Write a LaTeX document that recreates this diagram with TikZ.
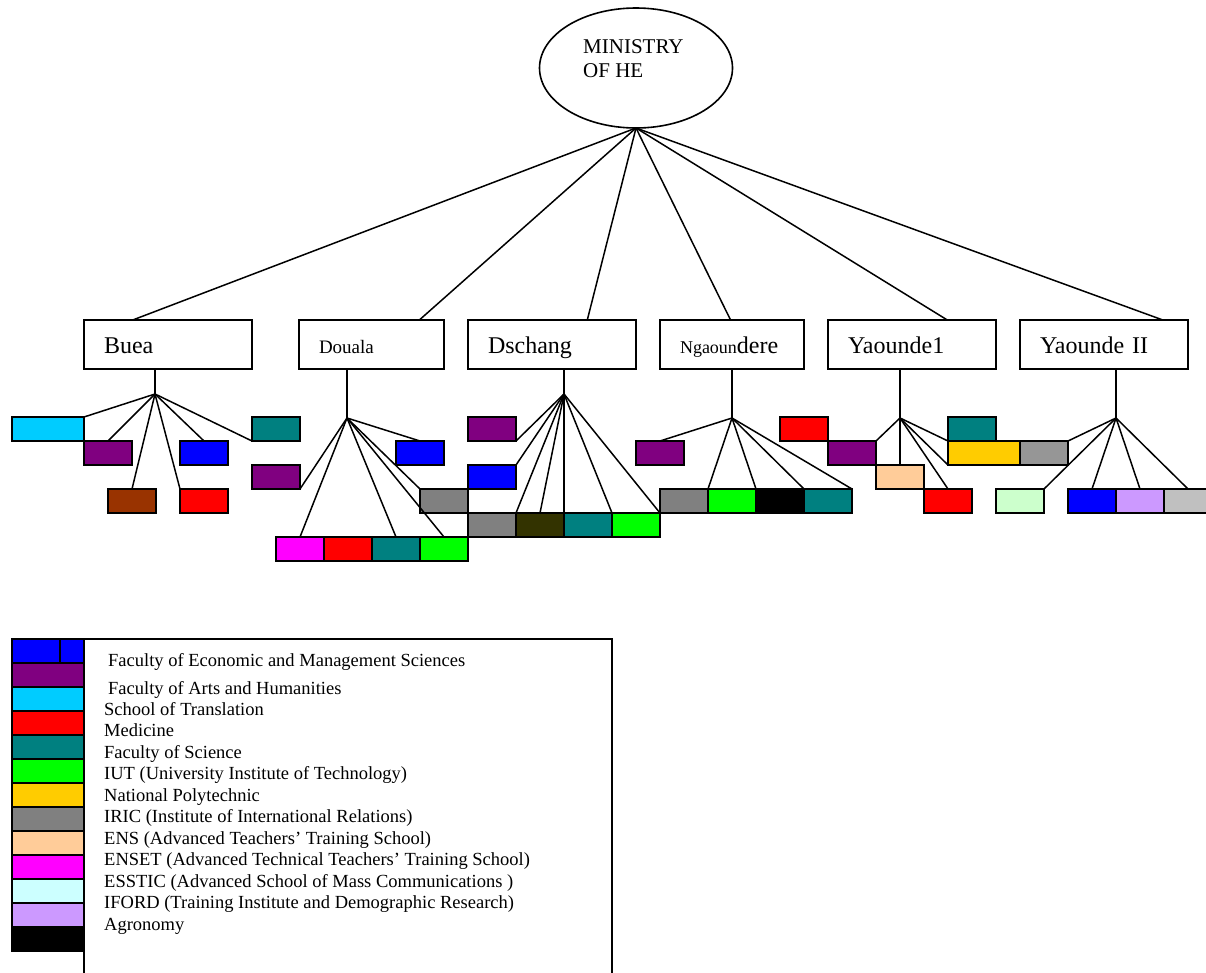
\documentclass[tikz,border=0pt]{standalone}
\usepackage{fontspec}
\setmainfont{Liberation Serif}
\usepackage{tikz}
\usetikzlibrary{shapes.geometric,calc}
\definecolor{cSky}{HTML}{00CCFF}
\definecolor{cPurple}{HTML}{800080}
\definecolor{cBlue}{HTML}{0000FF}
\definecolor{cBrown}{HTML}{993300}
\definecolor{cRed}{HTML}{FF0000}
\definecolor{cTeal}{HTML}{008080}
\definecolor{cMagenta}{HTML}{FF00FF}
\definecolor{cGreen}{HTML}{00FF00}
\definecolor{cGray}{HTML}{808080}
\definecolor{cOlive}{HTML}{333300}
\definecolor{cPeach}{HTML}{FFCC99}
\definecolor{cGold}{HTML}{FFCC00}
\definecolor{cGrayB}{HTML}{969696}
\definecolor{cMint}{HTML}{CCFFCC}
\definecolor{cLilac}{HTML}{CC99FF}
\definecolor{cSilver}{HTML}{C0C0C0}
\definecolor{cIce}{HTML}{CCFFFF}
\tikzset{
  link/.style={line width=1.5pt},
  unit/.style={
    draw, line width=1.7pt, fill=#1,
    minimum width=48pt, minimum height=24pt,
    inner sep=0pt, outer sep=0pt
  },
  wide unit/.style={unit=#1, minimum width=72pt},
  uni/.style={
    draw, line width=1.6pt, minimum height=49pt,
    inner xsep=20pt, inner ysep=0pt, outer sep=0pt,
    text width=#1, align=left, text height=18pt, text depth=1pt,
    font=\fontsize{24}{28}\selectfont
  },
  legend text/.style={anchor=base west, inner sep=0pt, font=\fontsize{18.5}{21}\selectfont}
}

\begin{document}
\begin{tikzpicture}[x=1pt,y=-1pt]
        \useasboundingbox (0,0) rectangle (1206,972);

        \node[ellipse, draw, line width=1.6pt, minimum width=193pt, minimum height=120pt, inner sep=0pt, outer sep=0pt] (MoHE) at (636,68) {};
        \node[align=left, anchor=west, inner sep=0pt, font=\fontsize{21}{24}\selectfont] (MoHEtext) at (583,59) {MINISTRY\\OF HE};

        \node[uni=128pt] (Buea)   at (168,344.5)   {Buea};
        \node[uni=105pt, font=\fontsize{19}{22}\selectfont] (Douala) at (371.5,344.5) {Douala};
        \node[uni=128pt] (Dschang) at (552,344.5)  {Dschang};
        \node[uni=104pt] (Ngaoundere) at (732,344.5) {{\fontsize{18}{20}\selectfont Ngaoun}dere};
        \node[uni=128pt] (YdeI)   at (912,344.5)   {Yaounde1};
        \node[uni=128pt] (YdeII)  at (1104,344.5)  {Yaounde II};

        \foreach \u/\f in {Buea/0.29, Douala/0.83, Dschang/0.71, Ngaoundere/0.49, YdeI/0.71, YdeII/0.85}
            \draw[link] (MoHE.south) -- ($(\u.north west)!\f!(\u.north east)$);

        \coordinate (Bh) at (155,394);
        \coordinate (Dh) at (347,418);
        \coordinate (Sh) at (564,394);
        \coordinate (Nh) at (732,418);
        \coordinate (Yh) at (900,418);
        \coordinate (Zh) at (1116,418);

        \draw[link] (Bh |- Buea.south) -- (Bh);
        \draw[link] (Dh |- Douala.south) -- (Dh);
        \draw[link] (Sh |- Dschang.south) -- (Sh);
        \draw[link] (Nh |- Ngaoundere.south) -- (Nh);
        \draw[link] (Yh |- YdeI.south) -- (Yh);
        \draw[link] (Zh |- YdeII.south) -- (Zh);

        \node[wide unit=cSky] (B1) at (48,429) {};
        \node[unit=cPurple] (B2) at (108,453) {};
        \node[unit=cBlue]   (B3) at (204,453) {};
        \node[unit=cBrown]  (B4) at (132,501) {};
        \node[unit=cRed]    (B5) at (204,501) {};
        \node[unit=cTeal]   (B6) at (276,429) {};

        \node[unit=cPurple]  (D1) at (276,477) {};
        \node[unit=cBlue]    (D2) at (420,453) {};
        \node[unit=cGray]    (D3) at (444,501) {};
        \node[unit=cMagenta] (D4) at (300,549) {};
        \node[unit=cRed]     (D5) at (348,549) {};
        \node[unit=cTeal]    (D6) at (396,549) {};
        \node[unit=cGreen]   (D7) at (444,549) {};

        \node[unit=cPurple] (S1) at (492,429) {};
        \node[unit=cBlue]   (S2) at (492,477) {};
        \node[unit=cGray]   (S3) at (492,525) {};
        \node[unit=cOlive]  (S4) at (540,525) {};
        \node[unit=cTeal]   (S5) at (588,525) {};
        \node[unit=cGreen]  (S6) at (636,525) {};

        \node[unit=cPurple] (N1) at (660,453) {};
        \node[unit=cGray]   (N2) at (684,501) {};
        \node[unit=cGreen]  (N3) at (732,501) {};
        \node[unit=black]   (N4) at (780,501) {};
        \node[unit=cTeal]   (N5) at (828,501) {};

        \node[unit=cRed]    (Y1) at (804,429) {};
        \node[unit=cPurple] (Y2) at (852,453) {};
        \node[unit=cPeach]  (Y3) at (900,477) {};
        \node[unit=cRed]    (Y4) at (948,501) {};
        \node[unit=cTeal]   (Y5) at (972,429) {};
        \node[wide unit=cGold] (Y6) at (984,453) {};

        \node[unit=cGrayB]  (Z1) at (1044,453) {};
        \node[unit=cMint]   (Z2) at (1020,501) {};
        \node[unit=cBlue]   (Z3) at (1092,501) {};
        \node[unit=cLilac]  (Z4) at (1140,501) {};
        \node[unit=cSilver] (Z5) at (1188,501) {};

        \begin{scope}[every edge/.style={draw, line width=1.5pt}]
            \path (Bh) edge (B1.north east) edge (B2.north) edge (B4.north)
                       edge (B5.north west) edge (B3.north) edge (B6.south west);
            \path (Dh) edge (D1.south east) edge (D4.north) edge (D6.north)
                       edge (D7.north) edge (D3.north west) edge (D2.north);
            \path (Sh) edge (S1.south east) edge (S2.north east) edge (S3.north east)
                       edge (S4.north) edge (S4.north east) edge (S5.north east) edge (S6.north east);
            \path (Nh) edge (N1.north) edge (N2.north east) edge (N3.north east)
                       edge (N4.north east) edge (N5.north east);
            \path (Yh) edge (Y2.north east) edge (Y3.north) edge (Y4.north)
                       edge (Y5.south west) edge (Y6.south west);
            \path (Zh) edge (Z1.north east) edge (Z2.north east) edge (Z3.north)
                       edge (Z4.north) edge (Z5.north);
        \end{scope}

        \draw[line width=1.7pt] (84,639) rectangle (612,990);
        \foreach \c [count=\i] in {cBlue,cPurple,cSky,cRed,cTeal,cGreen,cGold,cGray,cPeach,cMagenta,cIce,cLilac,black}
            \node[wide unit=\c] (L\i) at (48,627+24*\i) {};
        \draw[line width=1.7pt] ($(L1.north west)!0.667!(L1.north east)$) -- ($(L1.south west)!0.667!(L1.south east)$);

        \node[legend text] (Ta) at (108,666) {Faculty of Economic and Management Sciences};
        \node[legend text] (Tb) at (108,694) {Faculty of Arts and Humanities};
        \foreach \t [count=\i from 0] in {School of Translation, Medicine, Faculty of Science,
                IUT (University Institute of Technology), National Polytechnic,
                IRIC (Institute of International Relations), ENS (Advanced Teachers’ Training School),
                ENSET (Advanced Technical Teachers’ Training School),
                ESSTIC (Advanced School of Mass Communications ),
                IFORD (Training Institute and Demographic Research), Agronomy}
            \node[legend text] (T\i) at (104,715+21.5*\i) {\t};
    \end{tikzpicture}
\end{document}
